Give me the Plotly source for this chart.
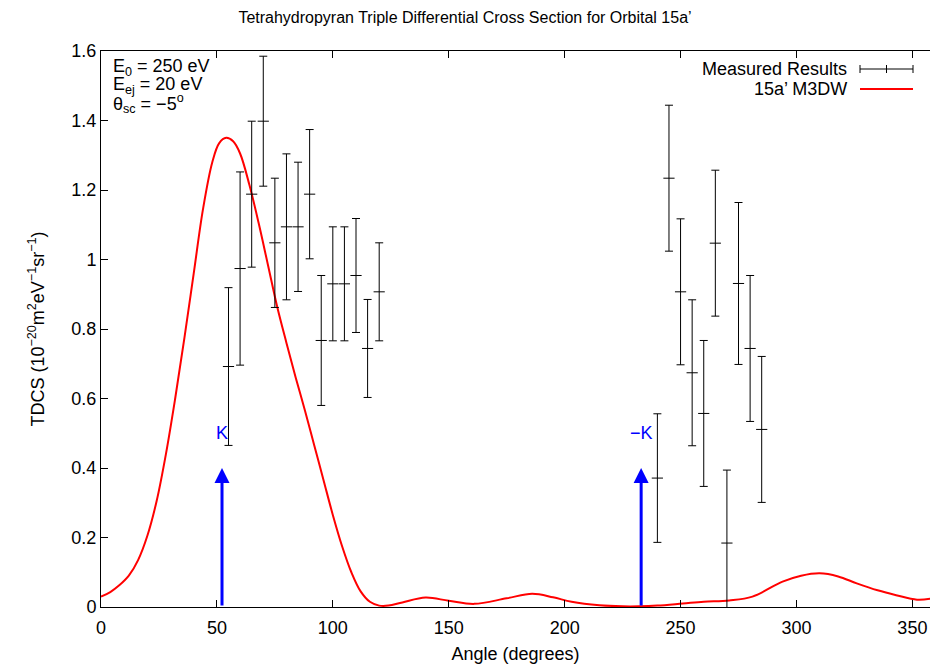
import plotly.graph_objects as go

# ---------------- data ----------------
exp_angle = [55, 60, 65, 70, 75, 80, 85, 90, 95, 100, 105, 110, 115, 120,
             240, 245, 250, 255, 260, 265, 270, 275, 280, 285]
exp_tdcs = [0.692, 0.974, 1.188, 1.398, 1.048, 1.094, 1.094, 1.188, 0.767, 0.930,
            0.930, 0.954, 0.744, 0.907,
            0.371, 1.234, 0.907, 0.674, 0.557, 1.047, 0.184, 0.931, 0.744, 0.511]
exp_err = [0.227, 0.278, 0.210, 0.187, 0.186, 0.210, 0.186, 0.186, 0.187, 0.164,
           0.164, 0.164, 0.141, 0.141,
           0.185, 0.210, 0.210, 0.210, 0.210, 0.210, 0.210, 0.233, 0.210, 0.210]

m3dw_angle = [0, 4, 8, 12, 16, 20, 24, 28, 32, 36, 40, 44, 48, 51, 54, 57, 60, 64,
              68, 72, 76, 80, 84, 88, 92, 96, 100, 104, 108, 112, 116, 120, 124,
              130, 140, 150, 161, 175, 186, 195, 203, 215, 225, 232, 240, 251,
              260, 271, 281, 294, 302, 310, 318, 326, 335, 343, 352, 358]
m3dw_tdcs = [0.030, 0.043, 0.063, 0.090, 0.135, 0.205, 0.305, 0.440, 0.600, 0.775,
             0.960, 1.145, 1.280, 1.335, 1.350, 1.340, 1.305, 1.215, 1.105, 0.985,
             0.864, 0.760, 0.660, 0.565, 0.465, 0.365, 0.265, 0.175, 0.100, 0.045,
             0.015, 0.004, 0.004, 0.013, 0.027, 0.018, 0.009, 0.025, 0.038, 0.028,
             0.015, 0.005, 0.002, 0.002, 0.004, 0.010, 0.015, 0.019, 0.030, 0.073,
             0.090, 0.097, 0.088, 0.068, 0.048, 0.034, 0.021, 0.024]

k_angle = 52.2
minus_k_angle = 233.0
arrow_height = 0.40
x_ticks = [0, 50, 100, 150, 200, 250, 300, 350]
y_ticks = [0, 0.2, 0.4, 0.6, 0.8, 1, 1.2, 1.4, 1.6]

# ---------------- layout helpers ----------------
W, H = 930, 664
L, R, T, B = 101, 0, 51, 57
PW, PH = W - L - R, H - T - B


def px(xp):
    return (xp - L) / PW


def py(yp):
    return (H - B - yp) / PH


FONT = "Liberation Sans Narrow, Liberation Sans, Arial, sans-serif"

fig = go.Figure()

fig.add_trace(go.Scatter(
    x=m3dw_angle, y=m3dw_tdcs, mode="lines",
    line=dict(color="#ff0000", width=2, shape="spline", smoothing=1.0),
    name="15a’ M3DW", showlegend=False, cliponaxis=True))

fig.add_trace(go.Scatter(
    x=exp_angle, y=exp_tdcs, mode="markers",
    marker=dict(symbol="line-ew", size=8, line=dict(color="black", width=1)),
    error_y=dict(type="data", array=exp_err, visible=True, color="black",
                 thickness=1, width=4),
    name="Measured Results", showlegend=False))

annotations = []
# arrows
for ang, lab in [(k_angle, "K"), (minus_k_angle, "−K")]:
    annotations.append(dict(
        x=ang, y=arrow_height, ax=ang, ay=0, xref="x", yref="y",
        axref="x", ayref="y", text="", showarrow=True, arrowhead=2,
        arrowsize=1, arrowwidth=3, arrowcolor="#0000ff"))
    annotations.append(dict(
        x=ang, y=0.50, xref="x", yref="y", text=lab, showarrow=False,
        font=dict(family=FONT, size=18, color="#0000ff")))

# info text
info = ["E<sub>0</sub> = 250 eV", "E<sub>ej</sub> = 20 eV",
        "θ<sub>sc</sub> = −5<sup>o</sup>"]
for i, t in enumerate(info):
    annotations.append(dict(
        x=px(111), y=py(67 + 18.5 * i), xref="paper", yref="paper", text=t,
        showarrow=False, xanchor="left", yanchor="middle",
        font=dict(family=FONT, size=18, color="black")))

# custom legend (text then sample, gnuplot style)
for i, t in enumerate(["Measured Results", "15a’ M3DW"]):
    annotations.append(dict(
        x=px(849), y=py(69 + 20 * i), xref="paper", yref="paper", text=t,
        showarrow=False, xanchor="right", yanchor="middle",
        font=dict(family=FONT, size=18, color="black")))

shapes = []
ly = py(69)
shapes.append(dict(type="line", xref="paper", yref="paper",
                   x0=px(860), x1=px(913), y0=ly, y1=ly,
                   line=dict(color="black", width=1)))
for xx in (860, 913, 886.5):
    shapes.append(dict(type="line", xref="paper", yref="paper",
                       x0=px(xx), x1=px(xx), y0=py(65), y1=py(73),
                       line=dict(color="black", width=1)))
shapes.append(dict(type="line", xref="paper", yref="paper",
                   x0=px(860), x1=px(913), y0=py(89), y1=py(89),
                   line=dict(color="#ff0000", width=2)))

fig.update_layout(
    width=W, height=H,
    margin=dict(l=L, r=R, t=T, b=B, pad=0),
    paper_bgcolor="white", plot_bgcolor="white",
    showlegend=False,
    font=dict(family=FONT, size=18, color="black"),
    title=dict(text="Tetrahydropyran Triple Differential Cross Section for Orbital 15a’",
               x=0.5, xanchor="center", y=1 - 17 / H, yanchor="middle",
               font=dict(family=FONT, size=16, color="black")),
    annotations=annotations, shapes=shapes,
    xaxis=dict(range=[0, 357.6], tickvals=x_ticks, ticks="inside", ticklen=7,
               tickcolor="black", showline=True, linecolor="black", linewidth=1,
               mirror="ticks", showgrid=False, zeroline=False,
               ticklabelstandoff=4,
               tickfont=dict(family=FONT, size=18),
               title=dict(text="Angle (degrees)", standoff=10,
                          font=dict(family=FONT, size=18))),
    yaxis=dict(range=[0, 1.6], tickvals=y_ticks, ticks="inside", ticklen=7,
               tickcolor="black", showline=True, linecolor="black", linewidth=1,
               mirror=False, showgrid=False, zeroline=False,
               tickfont=dict(family=FONT, size=18),
               title=dict(text="TDCS (10<sup>−20</sup>m<sup>2</sup>eV<sup>−1</sup>sr<sup>−1</sup>)",
                          standoff=22, font=dict(family=FONT, size=18))),
)

fig.write_html("out.html")
